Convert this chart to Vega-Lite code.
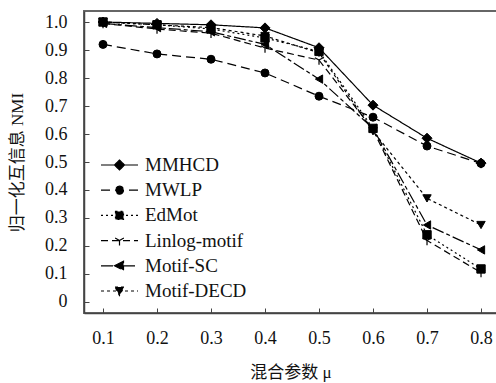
{
  "$schema": "https://vega.github.io/schema/vega-lite/v6.json",
  "width": 413,
  "height": 302,
  "autosize": "none",
  "padding": {"left": 84, "top": 11, "right": 0, "bottom": 70},
  "background": "white",
  "config": {
    "font": "Liberation Serif",
    "view": {"stroke": "#666", "strokeWidth": 2},
    "axis": {
      "labelFont": "Liberation Serif",
      "labelFontSize": 18,
      "labelColor": "#111",
      "titleFont": "Liberation Serif, Noto Sans CJK SC",
      "titleFontSize": 17,
      "titleFontWeight": "normal",
      "titleColor": "#111",
      "domainColor": "#444",
      "domainWidth": 1.5,
      "tickColor": "#444",
      "tickSize": -5,
      "grid": false
    },
    "point": {"filled": true, "color": "black", "stroke": "black", "strokeWidth": 1, "opacity": 1}
  },
  "data": {
    "values": [
      {"method": "MMHCD", "mu": 0.1, "nmi": 1.0},
      {"method": "MMHCD", "mu": 0.2, "nmi": 0.995},
      {"method": "MMHCD", "mu": 0.3, "nmi": 0.99},
      {"method": "MMHCD", "mu": 0.4, "nmi": 0.979},
      {"method": "MMHCD", "mu": 0.5, "nmi": 0.908},
      {"method": "MMHCD", "mu": 0.6, "nmi": 0.703},
      {"method": "MMHCD", "mu": 0.7, "nmi": 0.585},
      {"method": "MMHCD", "mu": 0.8, "nmi": 0.496},
      {"method": "MWLP", "mu": 0.1, "nmi": 0.92},
      {"method": "MWLP", "mu": 0.2, "nmi": 0.886},
      {"method": "MWLP", "mu": 0.3, "nmi": 0.867},
      {"method": "MWLP", "mu": 0.4, "nmi": 0.818},
      {"method": "MWLP", "mu": 0.5, "nmi": 0.735},
      {"method": "MWLP", "mu": 0.6, "nmi": 0.66},
      {"method": "MWLP", "mu": 0.7, "nmi": 0.557},
      {"method": "MWLP", "mu": 0.8, "nmi": 0.495},
      {"method": "EdMot", "mu": 0.1, "nmi": 1.0},
      {"method": "EdMot", "mu": 0.2, "nmi": 0.99},
      {"method": "EdMot", "mu": 0.3, "nmi": 0.975},
      {"method": "EdMot", "mu": 0.4, "nmi": 0.943},
      {"method": "EdMot", "mu": 0.5, "nmi": 0.895},
      {"method": "EdMot", "mu": 0.6, "nmi": 0.62},
      {"method": "EdMot", "mu": 0.7, "nmi": 0.24},
      {"method": "EdMot", "mu": 0.8, "nmi": 0.118},
      {"method": "Linlog-motif", "mu": 0.1, "nmi": 0.995},
      {"method": "Linlog-motif", "mu": 0.2, "nmi": 0.975},
      {"method": "Linlog-motif", "mu": 0.3, "nmi": 0.96},
      {"method": "Linlog-motif", "mu": 0.4, "nmi": 0.907},
      {"method": "Linlog-motif", "mu": 0.5, "nmi": 0.864},
      {"method": "Linlog-motif", "mu": 0.6, "nmi": 0.615},
      {"method": "Linlog-motif", "mu": 0.7, "nmi": 0.22},
      {"method": "Linlog-motif", "mu": 0.8, "nmi": 0.105},
      {"method": "Motif-SC", "mu": 0.1, "nmi": 0.995},
      {"method": "Motif-SC", "mu": 0.2, "nmi": 0.98},
      {"method": "Motif-SC", "mu": 0.3, "nmi": 0.965},
      {"method": "Motif-SC", "mu": 0.4, "nmi": 0.92},
      {"method": "Motif-SC", "mu": 0.5, "nmi": 0.796},
      {"method": "Motif-SC", "mu": 0.6, "nmi": 0.62},
      {"method": "Motif-SC", "mu": 0.7, "nmi": 0.275},
      {"method": "Motif-SC", "mu": 0.8, "nmi": 0.186},
      {"method": "Motif-DECD", "mu": 0.1, "nmi": 1.0},
      {"method": "Motif-DECD", "mu": 0.2, "nmi": 0.99},
      {"method": "Motif-DECD", "mu": 0.3, "nmi": 0.98},
      {"method": "Motif-DECD", "mu": 0.4, "nmi": 0.95},
      {"method": "Motif-DECD", "mu": 0.5, "nmi": 0.89},
      {"method": "Motif-DECD", "mu": 0.6, "nmi": 0.61},
      {"method": "Motif-DECD", "mu": 0.7, "nmi": 0.37},
      {"method": "Motif-DECD", "mu": 0.8, "nmi": 0.275}
    ]
  },
  "encoding": {
    "x": {
      "field": "mu",
      "type": "quantitative",
      "scale": {"domain": [0.0648, 0.8296], "nice": false, "zero": false},
      "axis": {
        "values": [0.1, 0.2, 0.3, 0.4, 0.5, 0.6, 0.7, 0.8],
        "format": ".1f",
        "labelPadding": 21,
        "title": "混合参数 μ",
        "titlePadding": 17
      }
    },
    "y": {
      "field": "nmi",
      "type": "quantitative",
      "scale": {"domain": [-0.0393, 1.0393], "nice": false, "zero": false},
      "axis": {
        "values": [0, 0.1, 0.2, 0.3, 0.4, 0.5, 0.6, 0.7, 0.8, 0.9, 1.0],
        "labelExpr": "datum.value == 0 ? '0' : format(datum.value, '.1f')",
        "labelPadding": 22,
        "title": "归一化互信息 NMI",
        "titlePadding": 18
      }
    }
  },
  "layer": [
    {
      "mark": {"type": "line", "color": "black", "strokeWidth": 1.2},
      "encoding": {
        "strokeDash": {
          "field": "method",
          "type": "nominal",
          "scale": {
            "domain": ["MMHCD", "MWLP", "EdMot", "Linlog-motif", "Motif-SC", "Motif-DECD"],
            "range": [[1, 0], [9, 5], [2, 3], [7, 4], [12, 3, 4, 3], [3, 3]]
          },
          "legend": {
            "orient": "none",
            "legendX": 26,
            "legendY": 144.5,
            "title": null,
            "padding": 0,
            "symbolSize": 100,
            "symbolType": {"expr": "datum.value === 'MMHCD' ? 'M-3.7,0L3.7,0M0,-1L1,0L0,1L-1,0Z' : datum.value === 'MWLP' ? 'M-3.7,0L3.7,0M0.8,0A0.8,0.8 0 1,1 -0.8,0A0.8,0.8 0 1,1 0.8,0Z' : datum.value === 'EdMot' ? 'M-3.7,0L3.7,0M-0.8,-0.8L0.8,-0.8L0.8,0.8L-0.8,0.8Z' : datum.value === 'Linlog-motif' ? 'M-3.7,0L3.7,0M0,0L0,1M0,0L-0.87,-0.5M0,0L0.87,-0.5' : datum.value === 'Motif-SC' ? 'M-3.7,0L3.7,0M-1,0L0.8,-0.9L0.8,0.9Z' : 'M-3.7,0L3.7,0M-0.9,-0.8L0.9,-0.8L0,0.9Z'"},
            "symbolFillColor": "black",
            "symbolStrokeColor": "black",
            "symbolStrokeWidth": 1.2,
            "labelOffset": 16,
            "labelFont": "Liberation Serif",
            "labelFontSize": 19,
            "labelColor": "#111",
            "rowPadding": 5.2
          }
        }
      }
    },
    {
      "transform": [{"filter": "datum.method === 'MMHCD'"}],
      "mark": {"type": "point", "shape": "diamond", "size": 100}
    },
    {
      "transform": [{"filter": "datum.method === 'MWLP'"}],
      "mark": {"type": "point", "shape": "circle", "size": 64}
    },
    {
      "transform": [{"filter": "datum.method === 'EdMot'"}],
      "mark": {"type": "point", "shape": "square", "size": 70}
    },
    {
      "transform": [{"filter": "datum.method === 'Linlog-motif'"}],
      "mark": {"type": "point", "shape": "M0,0L0,1M0,0L-0.87,-0.5M0,0L0.87,-0.5", "size": 90, "strokeWidth": 1.2}
    },
    {
      "transform": [{"filter": "datum.method === 'Motif-SC'"}],
      "mark": {"type": "point", "shape": "triangle-left", "size": 70}
    },
    {
      "transform": [{"filter": "datum.method === 'Motif-DECD'"}],
      "mark": {"type": "point", "shape": "triangle-down", "size": 70}
    }
  ]
}
